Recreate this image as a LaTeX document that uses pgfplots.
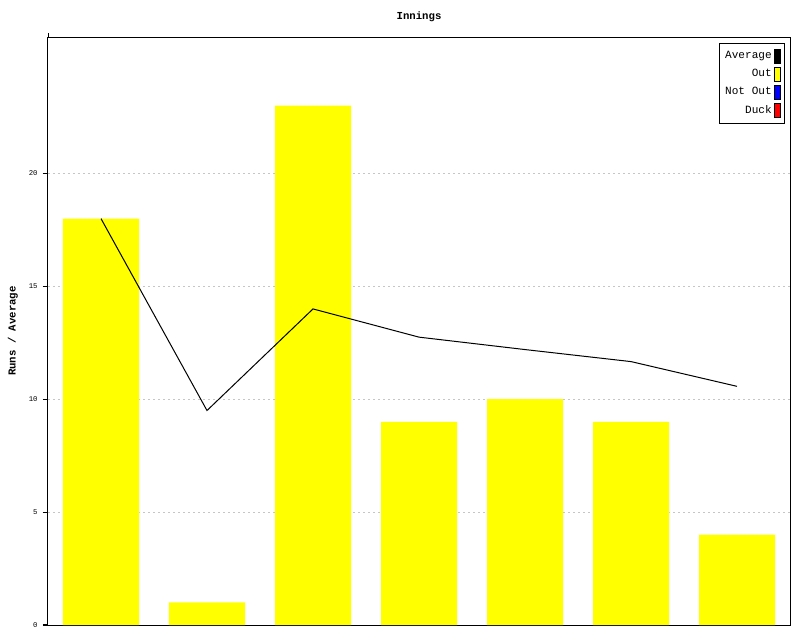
\documentclass[border=0pt]{standalone}
\usepackage{fontspec}
\setmainfont{DejaVu Sans}
\setmonofont{Liberation Mono}
\usepackage{pgfplots}
\pgfplotsset{compat=1.18}
\definecolor{outyellow}{RGB}{255,255,0}
\definecolor{notoutblue}{RGB}{0,0,255}
\definecolor{duckred}{RGB}{255,0,0}

\begin{document}
\begin{tikzpicture}
\path[use as bounding box] (-36pt,-11.25pt) rectangle (564pt,468.75pt);
\begin{axis}[
  at={(0pt,0pt)}, anchor=south west,
  scale only axis, width=556.5pt, height=440.25pt,
  xmin=-0.5, xmax=6.5, ymin=0, ymax=26,
  xtick=\empty, ytick={0,5,10,15,20},
  ymajorgrids, grid style={dash pattern=on 1.5pt off 2.25pt, gray!45, line width=0.6pt},
  axis line style={line width=0.75pt},
  ytick pos=left, tick align=outside, major tick length=3.75pt,
  ytick style={black, line width=0.7pt, solid},
  /pgf/number format/assume math mode=true,
  y tick label style={font=\ttfamily\fontsize{5.5}{6}\selectfont, xshift=-0.5pt},
  legend plot pos=right,
  legend cell align=right,
  legend style={at={(rel axis cs:1,1)}, anchor=north east, xshift=-3.75pt, yshift=-3.75pt,
    font=\ttfamily\fontsize{8.3}{9.5}\selectfont, draw=black, line width=0.75pt,
    row sep=2.4pt, inner xsep=2.5pt, inner ysep=4pt,
    /tikz/every even column/.append style={column sep=1pt}},
]
\addplot[ybar, bar width=0.717, fill=outyellow, draw=none, forget plot]
  coordinates {(0,18) (1,1) (2,23) (3,9) (4,10) (5,9) (6,4)};
\addplot[black, line width=0.75pt, mark=none, forget plot]
  coordinates {(0,18) (1,9.5) (2,14) (3,12.75) (4,12.2) (5,11.667) (6,10.571)};
\addlegendimage{legend image code/.code={\draw[draw=black,fill=black,line width=0.6pt] (0pt,-5.25pt) rectangle (4.5pt,5.25pt);}}
\addlegendentry{Average}
\addlegendimage{legend image code/.code={\draw[draw=black,fill=outyellow,line width=0.6pt] (0pt,-5.25pt) rectangle (4.5pt,5.25pt);}}
\addlegendentry{Out}
\addlegendimage{legend image code/.code={\draw[draw=black,fill=notoutblue,line width=0.6pt] (0pt,-5.25pt) rectangle (4.5pt,5.25pt);}}
\addlegendentry{Not Out}
\addlegendimage{legend image code/.code={\draw[draw=black,fill=duckred,line width=0.6pt] (0pt,-5.25pt) rectangle (4.5pt,5.25pt);}}
\addlegendentry{Duck}
\end{axis}
% outward tick marks on the left axis line (26 units over 440.25pt)
\foreach \v in {0,5,10,15,20}{
  \draw[black, line width=0.9pt] (-3.9pt,{\v*440.25/26*1pt}) -- (0pt,{\v*440.25/26*1pt});
}
% the left axis line runs a little past the top frame
\draw[black, line width=0.75pt] (0pt,440.25pt) -- (0pt,444pt);
\node[font=\ttfamily\bfseries\fontsize{8}{9}\selectfont] at (278.25pt,456pt) {Innings};
\node[font=\ttfamily\bfseries\fontsize{8}{9}\selectfont, rotate=90] at (-26.25pt,220.5pt) {Runs / Average};
\end{tikzpicture}
\end{document}
